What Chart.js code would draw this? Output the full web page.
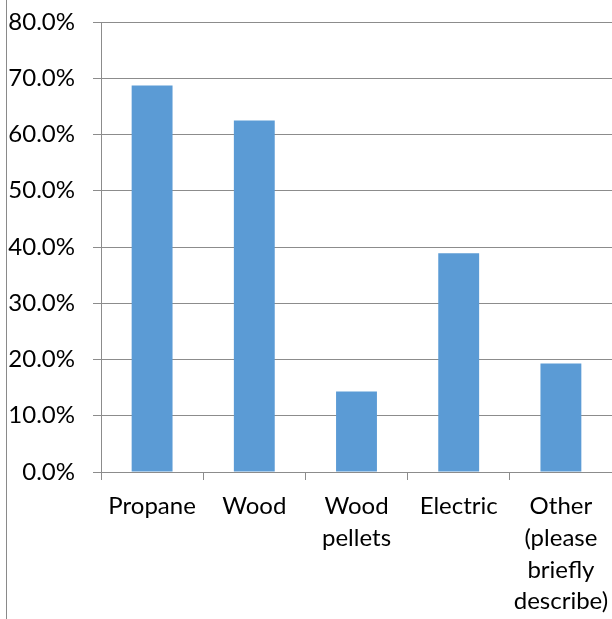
<!DOCTYPE html>
<html>
<head>
<meta charset="utf-8">
<script src="https://cdn.jsdelivr.net/npm/chart.js@4"></script>
<style>
  html, body { margin: 0; padding: 0; background: #fff; }
  #wrap { position: relative; width: 612px; height: 619px; }
  #edge { position: absolute; left: 6px; top: 0; width: 1px; height: 619px; background: #8a8a8a; }
  canvas { position: absolute; left: 0; top: 0; }
</style>
</head>
<body>
<div id="wrap">
  <canvas id="c" width="612" height="619"></canvas>
  <div id="edge"></div>
</div>
<script>
const categories = [
  "Propane",
  "Wood",
  ["Wood", "pellets"],
  "Electric",
  ["Other", "(please", "briefly", "describe)"]
];
const values = [68.7, 62.5, 14.3, 38.9, 19.3];
const yTicks = [0, 10, 20, 30, 40, 50, 60, 70, 80];

const gridColor = "#8c8c8c";

new Chart(document.getElementById("c"), {
  type: "bar",
  data: {
    labels: categories,
    datasets: [{
      data: values,
      backgroundColor: "#5B9BD5",
      borderWidth: 0,
      barPercentage: 0.4,
      categoryPercentage: 1.0
    }]
  },
  options: {
    responsive: false,
    animation: false,
    devicePixelRatio: 1,
    layout: { padding: { top: 22, left: 0, right: 0, bottom: 0 } },
    plugins: { legend: { display: false }, tooltip: { enabled: false } },
    scales: {
      x: {
        offset: true,
        grid: {
          offset: true,
          drawOnChartArea: false,
          drawTicks: true,
          tickLength: 8,
          color: gridColor,
          lineWidth: 1
        },
        border: { display: true, color: gridColor, width: 1 },
        ticks: {
          color: "#000",
          font: { family: "Lato", size: 24, lineHeight: 1.33 },
          padding: 10,
          maxRotation: 0,
          minRotation: 0,
          autoSkip: false
        },
        afterFit: (s) => { s.height = 147; s.paddingLeft = 0; s.paddingRight = 0; }
      },
      y: {
        min: 0,
        max: 80,
        afterBuildTicks: (s) => { s.ticks = yTicks.map(v => ({ value: v })); },
        grid: {
          color: gridColor,
          lineWidth: 1,
          drawTicks: true,
          tickLength: 8
        },
        border: { display: true, color: gridColor, width: 1 },
        ticks: {
          color: "#000",
          font: { family: "Lato", size: 24 },
          padding: 18,
          callback: (v) => Number(v).toFixed(1) + "%"
        },
        afterFit: (s) => { s.width = 101; s.paddingTop = 0; s.paddingBottom = 0; }
      }
    }
  }
});
</script>
</body>
</html>
